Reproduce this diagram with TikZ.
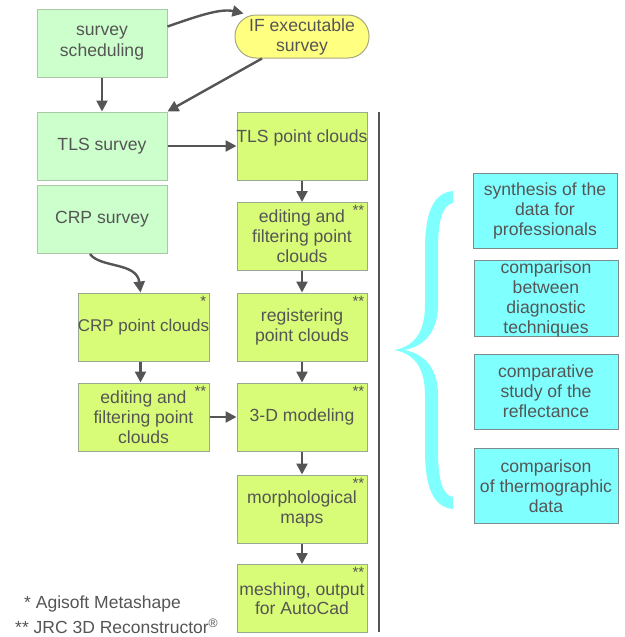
\documentclass[tikz,border=0pt]{standalone}
\usepackage{fontspec}
\setmainfont{Liberation Sans}
\usetikzlibrary{arrows.meta}
\definecolor{txt}{HTML}{555555}
\definecolor{mint}{HTML}{CCFFCC}
\definecolor{mintb}{HTML}{A8C8A8}
\definecolor{lime}{HTML}{D8FC78}
\definecolor{limeb}{HTML}{9AA890}
\definecolor{cyanf}{HTML}{80FFFF}
\definecolor{cyanb}{HTML}{7A8C8C}
\definecolor{pill}{HTML}{FFFF80}
\definecolor{pillb}{HTML}{A8A880}
\definecolor{arr}{HTML}{555555}
\tikzset{
  base/.style={draw, line width=1pt, inner sep=0pt, align=center, text=txt,
    font=\fontsize{17.6}{20}\selectfont, minimum width=130pt, minimum height=68pt},
  mintbox/.style={base, fill=mint, draw=mintb},
  limebox/.style={base, fill=lime, draw=limeb},
  cyanbox/.style={base, fill=cyanf, draw=cyanb, minimum width=144pt, minimum height=75pt},
  pillbox/.style={base, fill=pill, draw=pillb, minimum width=134pt, minimum height=43pt, rounded corners=21pt},
  stars/.style={label={[anchor=north east, inner sep=2pt, xshift=-1pt, yshift=-1pt, text=txt, font=\fontsize{15}{15}\selectfont]north east:#1}},
  conn/.style={draw=arr, line width=2.4pt, -{Triangle[length=11pt,width=11pt]}},
  foot/.style={text=txt, font=\fontsize{17.5}{18}\selectfont, anchor=west, inner sep=0pt}
}
\begin{document}
\begin{tikzpicture}[x=1pt,y=-1pt]
\useasboundingbox (0,0) rectangle (624,637);
\fill[white] (0,0) rectangle (624,637);

\node[mintbox] (ss) at (102,43) {survey\\[1pt]scheduling};
\node[pillbox] (if) at (302,36.5) {IF executable\\survey};
\node[mintbox] (tls) at (102,146) {TLS survey};
\node[limebox, label={[text=txt, font=\fontsize{17.6}{20}\selectfont, yshift=8pt]center:TLS point clouds}] (tlspc) at (302,146) {};
\node[mintbox] (crp) at (102,219.5) {CRP survey};
\node[limebox, stars=**] (ed1) at (302,236.5) {editing and\\filtering point\\clouds};
\node[limebox, minimum width=131pt, stars=*] (crppc) at (143.5,327) {\raisebox{-5pt}{\makebox[127pt][c]{\fontsize{17}{20}\selectfont CRP point clouds}}};
\node[limebox, stars=**] (reg) at (302,327) {registering\\point clouds};
\node[limebox, minimum width=131pt, stars=**] (ed2) at (143.5,417) {editing and\\filtering point\\clouds};
\node[limebox, stars=**] (mod) at (302,417) {3-D modeling};
\node[limebox, stars=**] (morph) at (302,509) {morphological\\maps};
\node[limebox, stars=**] (mesh) at (302,598.5) {\raisebox{-3pt}{\shortstack{meshing, output\\for AutoCad}}};

\node[cyanbox] (r1) at (545,210.5) {synthesis of the\\data for\\professionals};
\node[cyanbox] (r2) at (546,298.5) {comparison\\between\\diagnostic\\techniques};
\node[cyanbox] (r3) at (546,391.5) {comparative\\study of the\\reflectance};
\node[cyanbox] (r4) at (546,486) {comparison\\of thermographic\\data};

\node[foot] (f1) at (24,604) {* Agisoft Metashape};
\node[foot] (f2) at (15,626) {** JRC 3D Reconstructor\textsuperscript{®}};

% connectors
\draw[conn] ([yshift=-18pt]ss.north east) .. controls (195,17) and (220,8) .. ([xshift=9pt,yshift=1pt]if.north west);
\draw[conn] ([xshift=-40pt]if.south) -- (tls.north east);
\draw[conn] (ss) -- (tls);
\draw[conn] (tls) -- (tlspc);
\draw[conn] (tlspc) -- (ed1);
\draw[conn] (ed1) -- (reg);
\draw[conn] (reg) -- (mod);
\draw[conn] (mod) -- (morph);
\draw[conn] (morph) -- (mesh);
\draw[conn] ([xshift=-12pt]crp.south) .. controls (100,268) and (137,262) .. ([xshift=-3pt]crppc.north);
\draw[conn] ([xshift=-3pt]crppc.south) -- ([xshift=-3pt]ed2.north);
\draw[conn] (ed2) -- (mod);

% separator
\coordinate (sepT) at (379,112);
\coordinate (sepB) at (379,632);
\draw[arr, line width=2.4pt] (sepT) -- (sepB);

% brace
\fill[cyanf] (453,191) .. controls (432,193) and (425,215) .. (425,250) -- (425,305)
  .. controls (425,335) and (412,347) .. (394,350)
  .. controls (412,353) and (425,365) .. (425,395) -- (425,450)
  .. controls (425,485) and (432,507) .. (453,509) -- (453,497)
  .. controls (441,495) and (438,475) .. (438,450) -- (438,395)
  .. controls (438,365) and (421,353) .. (404,350)
  .. controls (421,347) and (438,335) .. (438,305) -- (438,250)
  .. controls (438,225) and (441,205) .. (453,203) -- cycle;
\end{tikzpicture}
\end{document}
